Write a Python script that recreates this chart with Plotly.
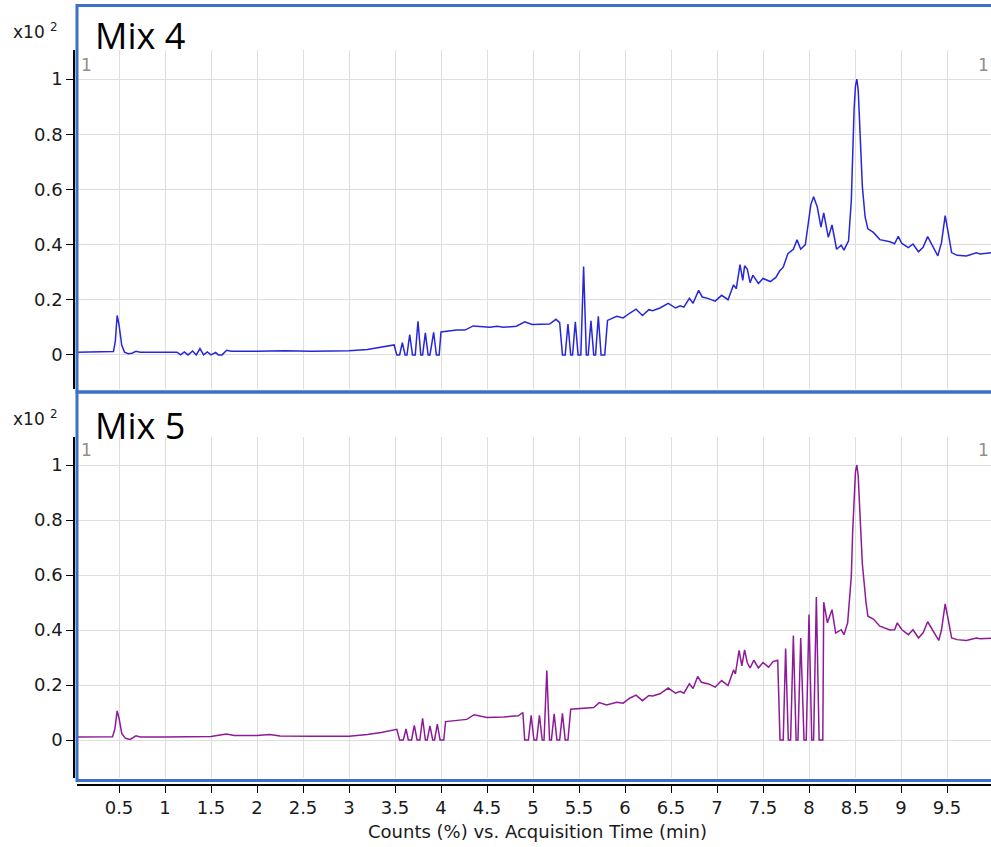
import plotly.graph_objects as go

# ---- chromatogram data (Counts x10^2, relative) ----
mix4_time = [
    0.04, 0.30, 0.44, 0.46, 0.48, 0.50, 0.53, 0.56, 0.60, 0.64, 0.685, 0.73,
    1.00, 1.13, 1.17, 1.21, 1.25, 1.30, 1.34, 1.38, 1.42, 1.46, 1.50, 1.55,
    1.58, 1.62, 1.67, 1.72, 2.00, 2.30, 2.60, 3.00, 3.20, 3.35, 3.49,
    3.52, 3.55, 3.58, 3.61, 3.63, 3.66, 3.69, 3.72, 3.75, 3.78, 3.80, 3.83,
    3.86, 3.88, 3.92, 3.95, 3.98, 4.00, 4.17, 4.26, 4.35, 4.45, 4.53, 4.61,
    4.68, 4.82, 4.91, 4.99, 5.18, 5.25, 5.29, 5.32, 5.35, 5.38, 5.41, 5.43,
    5.46, 5.49, 5.52, 5.55, 5.58, 5.60, 5.63, 5.66, 5.68, 5.71, 5.74, 5.78,
    5.81, 5.91, 5.98, 6.05, 6.12, 6.19, 6.26, 6.30, 6.38, 6.47, 6.55, 6.60,
    6.64, 6.70, 6.74, 6.80, 6.84, 6.90, 6.98, 7.05, 7.12, 7.18, 7.21, 7.25,
    7.28, 7.30, 7.33, 7.36, 7.39, 7.45, 7.50, 7.58, 7.64, 7.68, 7.72, 7.77,
    7.83, 7.87, 7.91, 7.96, 7.99, 8.02, 8.05, 8.09, 8.13, 8.16, 8.21, 8.25,
    8.30, 8.35, 8.38, 8.43, 8.46, 8.475, 8.49, 8.505, 8.52, 8.535, 8.55, 8.565,
    8.58, 8.61, 8.64, 8.70, 8.77, 8.88, 8.93, 8.97, 9.01, 9.08, 9.13, 9.19,
    9.24, 9.29, 9.35, 9.40, 9.44, 9.465, 9.48, 9.51, 9.55, 9.61, 9.71, 9.82,
    9.86, 9.98,
]
mix4_counts = [
    0.010, 0.011, 0.012, 0.050, 0.143, 0.110, 0.035, 0.010, 0.004, 0.006, 0.013, 0.010,
    0.010, 0.010, 0.000, 0.011, 0.000, 0.014, 0.000, 0.023, 0.000, 0.011, 0.000, 0.009,
    0.000, 0.000, 0.017, 0.013, 0.013, 0.015, 0.013, 0.015, 0.020, 0.027, 0.036,
    0.000, 0.000, 0.044, 0.000, 0.000, 0.074, 0.000, 0.000, 0.122, 0.000, 0.000, 0.080,
    0.000, 0.000, 0.082, 0.000, 0.000, 0.083, 0.090, 0.090, 0.105, 0.102, 0.100, 0.104,
    0.100, 0.104, 0.120, 0.110, 0.112, 0.129, 0.117, 0.000, 0.000, 0.112, 0.000, 0.000,
    0.120, 0.000, 0.000, 0.320, 0.000, 0.000, 0.124, 0.000, 0.000, 0.140, 0.000, 0.000,
    0.125, 0.140, 0.134, 0.151, 0.166, 0.143, 0.164, 0.160, 0.170, 0.187, 0.170, 0.178,
    0.173, 0.205, 0.187, 0.234, 0.210, 0.205, 0.195, 0.216, 0.200, 0.254, 0.240, 0.327,
    0.270, 0.323, 0.310, 0.262, 0.289, 0.259, 0.277, 0.266, 0.281, 0.304, 0.318, 0.367,
    0.383, 0.417, 0.383, 0.400, 0.469, 0.545, 0.573, 0.536, 0.463, 0.515, 0.426, 0.471,
    0.383, 0.398, 0.380, 0.414, 0.560, 0.740, 0.890, 0.975, 1.000, 0.960, 0.850, 0.720,
    0.610, 0.500, 0.457, 0.444, 0.418, 0.410, 0.403, 0.430, 0.404, 0.389, 0.402, 0.374,
    0.390, 0.429, 0.390, 0.359, 0.407, 0.480, 0.505, 0.450, 0.371, 0.361, 0.359, 0.370,
    0.366, 0.370,
]

mix5_time = [
    0.04, 0.30, 0.43, 0.455, 0.48, 0.50, 0.53, 0.57, 0.62, 0.685, 0.73, 1.00,
    1.30, 1.50, 1.60, 1.67, 1.75, 2.00, 2.14, 2.25, 2.60, 3.00, 3.20, 3.35,
    3.52, 3.55, 3.59, 3.62, 3.645, 3.68, 3.71, 3.74, 3.77, 3.80, 3.83, 3.85,
    3.88, 3.91, 3.93, 3.96, 3.99, 4.03, 4.05, 4.21, 4.28, 4.36, 4.50, 4.68,
    4.84, 4.89, 4.91, 4.95, 4.98, 5.01, 5.04, 5.07, 5.10, 5.12, 5.15, 5.18,
    5.20, 5.23, 5.26, 5.29, 5.32, 5.35, 5.38, 5.41, 5.51, 5.58, 5.66, 5.72,
    5.80, 5.91, 5.98, 6.05, 6.12, 6.19, 6.26, 6.30, 6.38, 6.47, 6.55, 6.60,
    6.64, 6.70, 6.74, 6.79, 6.83, 6.91, 6.98, 7.05, 7.12, 7.18, 7.20, 7.24,
    7.27, 7.30, 7.33, 7.36, 7.40, 7.45, 7.50, 7.56, 7.61, 7.66, 7.685, 7.72,
    7.746, 7.775, 7.80, 7.83, 7.86, 7.88, 7.91, 7.946, 7.97, 8.00, 8.03, 8.05,
    8.08, 8.11, 8.15, 8.16, 8.20, 8.25, 8.29, 8.35, 8.38, 8.42, 8.46, 8.475,
    8.49, 8.505, 8.52, 8.535, 8.55, 8.565, 8.58, 8.62, 8.64, 8.70, 8.77, 8.88,
    8.93, 8.96, 9.01, 9.08, 9.13, 9.19, 9.24, 9.29, 9.35, 9.41, 9.44, 9.465,
    9.48, 9.51, 9.55, 9.61, 9.71, 9.82, 9.86, 9.98,
]
mix5_counts = [
    0.011, 0.011, 0.012, 0.040, 0.106, 0.080, 0.024, 0.006, 0.002, 0.015, 0.011, 0.011,
    0.012, 0.013, 0.018, 0.022, 0.016, 0.016, 0.020, 0.015, 0.014, 0.014, 0.020, 0.027,
    0.039, 0.000, 0.000, 0.040, 0.000, 0.000, 0.053, 0.000, 0.000, 0.079, 0.000, 0.000,
    0.051, 0.000, 0.000, 0.058, 0.000, 0.000, 0.067, 0.073, 0.075, 0.092, 0.082, 0.084,
    0.088, 0.100, 0.000, 0.000, 0.090, 0.000, 0.000, 0.090, 0.000, 0.000, 0.253, 0.000,
    0.000, 0.095, 0.000, 0.000, 0.097, 0.000, 0.000, 0.112, 0.115, 0.116, 0.118, 0.136,
    0.127, 0.137, 0.134, 0.152, 0.163, 0.143, 0.162, 0.160, 0.168, 0.189, 0.170, 0.177,
    0.170, 0.204, 0.187, 0.231, 0.210, 0.204, 0.192, 0.216, 0.198, 0.255, 0.240, 0.326,
    0.270, 0.328, 0.280, 0.262, 0.290, 0.262, 0.282, 0.265, 0.285, 0.290, 0.000, 0.000,
    0.333, 0.000, 0.000, 0.380, 0.000, 0.000, 0.371, 0.000, 0.000, 0.456, 0.000, 0.000,
    0.520, 0.000, 0.000, 0.501, 0.426, 0.474, 0.389, 0.401, 0.383, 0.426, 0.596, 0.760,
    0.900, 0.975, 1.000, 0.960, 0.850, 0.740, 0.640, 0.499, 0.450, 0.440, 0.414, 0.400,
    0.401, 0.426, 0.401, 0.383, 0.401, 0.371, 0.390, 0.430, 0.395, 0.362, 0.400, 0.470,
    0.495, 0.444, 0.371, 0.365, 0.362, 0.371, 0.368, 0.370,
]

x_ticks = [0.5, 1, 1.5, 2, 2.5, 3, 3.5, 4, 4.5, 5, 5.5, 6, 6.5, 7, 7.5, 8, 8.5, 9, 9.5]
x_tick_text = ["0.5", "1", "1.5", "2", "2.5", "3", "3.5", "4", "4.5", "5",
               "5.5", "6", "6.5", "7", "7.5", "8", "8.5", "9", "9.5"]
y_ticks = [0, 0.2, 0.4, 0.6, 0.8, 1]
y_tick_text = ["0", "0.2", "0.4", "0.6", "0.8", "1"]
panel_names = ["Mix 4", "Mix 5"]

# ---- page geometry (pixels) ----
W, H = 991, 847


def px(x):
    return x / W


def py(y):
    return 1 - y / H


TICK_FONT = dict(family="DejaVu Sans", size=18, color="#1a1a1a")
GRID = "#dedede"
FRAME = "#3d71c5"

fig = go.Figure()
fig.add_trace(go.Scatter(x=mix4_time, y=mix4_counts, mode="lines", xaxis="x", yaxis="y",
                         line=dict(color="#2727d8", width=1.5), showlegend=False))
fig.add_trace(go.Scatter(x=mix5_time, y=mix5_counts, mode="lines", xaxis="x2", yaxis="y2",
                         line=dict(color="#8d1b98", width=1.5), showlegend=False))

x_range = [(77 - 73) / 92, (991 - 73) / 92]
common_x = dict(domain=[px(77), 1], range=x_range, tickvals=x_ticks, ticktext=x_tick_text,
                showgrid=True, gridcolor=GRID, gridwidth=1, zeroline=False)
common_y = dict(tickvals=y_ticks, ticktext=y_tick_text, showgrid=True, gridcolor=GRID,
                gridwidth=1, zeroline=False, showline=True, linecolor="black", linewidth=1.5,
                ticks="outside", ticklen=7, tickcolor="black", tickwidth=1.2,
                tickfont=TICK_FONT, anchor="free", position=px(74))

fig.update_layout(
    width=W, height=H,
    margin=dict(l=0, r=0, t=0, b=0),
    paper_bgcolor="white", plot_bgcolor="white",
    xaxis=dict(**common_x, anchor="y", showticklabels=False, ticks="", showline=False),
    xaxis2=dict(**common_x, matches="x", anchor="free", position=py(785),
                showticklabels=True, ticks="outside", ticklen=7, tickcolor="black",
                tickwidth=1.2, showline=True, linecolor="black", linewidth=1.5,
                tickfont=TICK_FONT),
    yaxis=dict(**common_y, domain=[py(389), py(50)], range=[-34 / 275, 304 / 275]),
    yaxis2=dict(**common_y, domain=[py(778), py(437)], range=[-38 / 275, 303 / 275]),
)

# blue frames around each panel
fig.add_shape(type="rect", xref="paper", yref="paper", x0=px(77), x1=px(1000),
              y0=py(392), y1=py(5.5), line=dict(color=FRAME, width=3), layer="above")
fig.add_shape(type="rect", xref="paper", yref="paper", x0=px(77), x1=px(1000),
              y0=py(780.5), y1=py(392), line=dict(color=FRAME, width=3), layer="above")

# panel titles, scale labels and trace markers
for name, cy, sy, ly in [(panel_names[0], 36, 31, 64.5), (panel_names[1], 425, 418, 450)]:
    fig.add_annotation(text=name, xref="paper", yref="paper", x=px(93), y=py(cy),
                       xanchor="left", yanchor="middle", showarrow=False,
                       font=dict(family="Open Sans", size=36, color="black"))
    fig.add_annotation(text="x10 <sup>2</sup>", xref="paper", yref="paper", x=px(11), y=py(sy),
                       xanchor="left", yanchor="middle", showarrow=False,
                       font=dict(family="DejaVu Sans", size=17, color="#1a1a1a"))
    for lx in (86.5, 983.5):
        fig.add_annotation(text="1", xref="paper", yref="paper", x=px(lx), y=py(ly),
                           xanchor="center", yanchor="middle", showarrow=False,
                           font=dict(family="DejaVu Sans", size=17, color="#978d86"))

fig.add_annotation(text="Counts (%) vs. Acquisition Time (min)", xref="paper", yref="paper",
                   x=px(537), y=py(831), xanchor="center", yanchor="middle", showarrow=False,
                   font=dict(family="DejaVu Sans", size=18, color="#1a1a1a"))

fig.write_html("out.html")
